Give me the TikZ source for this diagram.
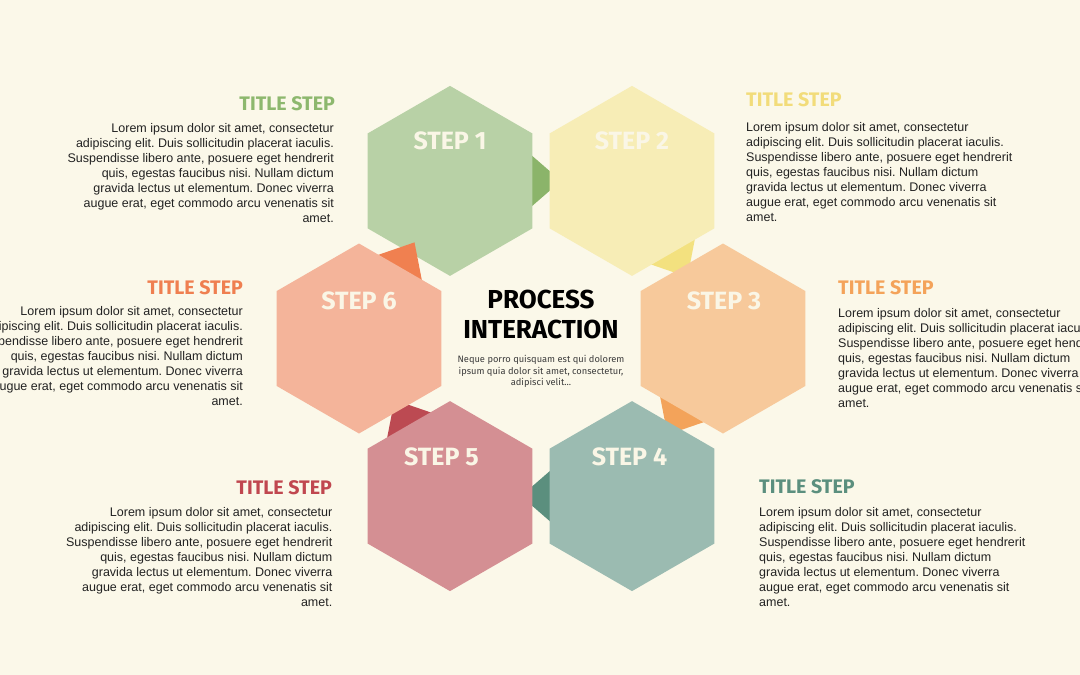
\documentclass[tikz,border=0pt]{standalone}
\usepackage{fontspec}
\setmainfont{Liberation Sans}
\newfontfamily\dinfont{Fira Sans}
\newfontfamily\arialfont{Liberation Sans}
\usetikzlibrary{shapes.geometric,calc}
\frenchspacing
\definecolor{bgc}{HTML}{FBF8E9}
\definecolor{hexA}{HTML}{B8D1A6}
\definecolor{hexB}{HTML}{F7EDB6}
\definecolor{hexC}{HTML}{F7C99B}
\definecolor{hexD}{HTML}{9BBBB1}
\definecolor{hexE}{HTML}{D48F93}
\definecolor{hexF}{HTML}{F4B49A}
\definecolor{triA}{HTML}{8BB46A}
\definecolor{triB}{HTML}{F3E17F}
\definecolor{triC}{HTML}{F3A35A}
\definecolor{triD}{HTML}{5B8F7E}
\definecolor{triE}{HTML}{BC4A52}
\definecolor{triF}{HTML}{F08050}
\definecolor{ttlA}{HTML}{8DB86E}
\definecolor{ttlB}{HTML}{F2DC7A}
\definecolor{ttlC}{HTML}{F4A35A}
\definecolor{ttlD}{HTML}{5B8F7E}
\definecolor{ttlE}{HTML}{C0474F}
\definecolor{ttlF}{HTML}{EF7F50}
\definecolor{stepcol}{HTML}{FAF6E6}
\definecolor{bodycol}{HTML}{222222}
\definecolor{subcol}{HTML}{3C3C3C}
\begin{document}
\frenchspacing
\begin{tikzpicture}[x=1pt,y=-1pt,
  hexa/.style={regular polygon, regular polygon sides=6, minimum size=190pt,
    inner sep=0pt, outer sep=0pt, shape border rotate=30, draw=none},
  steplab/.style={font=\dinfont\bfseries\fontsize{25}{30}\selectfont, text=stepcol, anchor=base, inner sep=0pt},
  ttl/.style={font=\dinfont\bfseries\fontsize{19.6}{22}\selectfont, inner sep=0pt},
  body/.style={font=\arialfont\frenchspacing\fontsize{12.5}{15}\selectfont, text=bodycol, inner sep=0pt},
  bigttl/.style={font=\dinfont\bfseries\fontsize{26}{30}\selectfont, text=black, anchor=base, inner sep=0pt},
  subtxt/.style={font=\dinfont\fontsize{9.3}{11.2}\selectfont, text=subcol, align=center, anchor=north, inner sep=0pt}
]
\fill[bgc] (0,0) rectangle (1080,675);
\useasboundingbox (0,0) rectangle (1080,675);
\clip (0,0) rectangle (1080,675);

\coordinate (c1) at (450,180.9);
\coordinate (c2) at (632,180.9);
\coordinate (c3) at (723,338.5);
\coordinate (c4) at (632,496.1);
\coordinate (c5) at (450,496.1);
\coordinate (c6) at (359,338.5);

% step 1
\fill[triA] ($(c1)!111pt!(c2)$) -- ($(c1)!65pt!(c2)!40pt!90:(c2)$) -- ($(c1)!65pt!(c2)!40pt!-90:(c2)$) -- cycle;
\node[hexa, fill=hexA] (h1) at (c1) {};
% step 2
\fill[triB] ($(c2)!111pt!(c3)$) -- ($(c2)!65pt!(c3)!40pt!90:(c3)$) -- ($(c2)!65pt!(c3)!40pt!-90:(c3)$) -- cycle;
\node[hexa, fill=hexB] (h2) at (c2) {};
% step 3
\fill[triC] ($(c3)!111pt!(c4)$) -- ($(c3)!65pt!(c4)!40pt!90:(c4)$) -- ($(c3)!65pt!(c4)!40pt!-90:(c4)$) -- cycle;
\node[hexa, fill=hexC] (h3) at (c3) {};
% step 4
\fill[triD] ($(c4)!111pt!(c5)$) -- ($(c4)!65pt!(c5)!40pt!90:(c5)$) -- ($(c4)!65pt!(c5)!40pt!-90:(c5)$) -- cycle;
\node[hexa, fill=hexD] (h4) at (c4) {};
% step 5
\fill[triE] ($(c5)!111pt!(c6)$) -- ($(c5)!65pt!(c6)!40pt!90:(c6)$) -- ($(c5)!65pt!(c6)!40pt!-90:(c6)$) -- cycle;
\node[hexa, fill=hexE] (h5) at (c5) {};
% step 6
\fill[triF] ($(c6)!111pt!(c1)$) -- ($(c6)!65pt!(c1)!40pt!90:(c1)$) -- ($(c6)!65pt!(c1)!40pt!-90:(c1)$) -- cycle;
\node[hexa, fill=hexF] (h6) at (c6) {};

% step labels
\node[steplab] (s1) at (450,149) {STEP 1};
\node[steplab] (s2) at (632,149) {STEP 2};
\node[steplab] (s3) at (724,309.5) {STEP 3};
\node[steplab] (s4) at (629.5,465.5) {STEP 4};
\node[steplab] (s5) at (441.5,465.5) {STEP 5};
\node[steplab] (s6) at (359,309.5) {STEP 6};

% centre
\node[bigttl] (p1) at (541,308.3) {PROCESS};
\node[bigttl] (p2) at (541,338.3) {INTERACTION};
\node[subtxt] (p3) at (541,355.5) {Neque porro quisquam est qui dolorem\\ ipsum quia dolor sit amet, consectetur,\\ adipisci velit...};

% titles
\node[ttl, text=ttlA, anchor=base east] (t1) at (335,110) {TITLE STEP};
\node[ttl, text=ttlB, anchor=base west] (t2) at (746,106.5) {TITLE STEP};
\node[ttl, text=ttlC, anchor=base west] (t3) at (838,294.5) {TITLE STEP};
\node[ttl, text=ttlD, anchor=base west] (t4) at (759,493) {TITLE STEP};
\node[ttl, text=ttlE, anchor=base east] (t5) at (332,494) {TITLE STEP};
\node[ttl, text=ttlF, anchor=base east] (t6) at (243,294) {TITLE STEP};

% body texts
\newcommand{\lorembody}{Lorem ipsum dolor sit amet, consectetur\\ adipiscing elit. Duis sollicitudin placerat iaculis.\\ Suspendisse libero ante, posuere eget hendrerit\\ quis, egestas faucibus nisi. Nullam dictum\\ gravida lectus ut elementum. Donec viverra\\ augue erat, eget commodo arcu venenatis sit\\ amet.}
\node[body, align=right, anchor=north east] (b1) at (334,123) {\lorembody};
\node[body, align=left, anchor=north west] (b2) at (746,122.5) {\lorembody};
\node[body, align=left, anchor=north west] (b3) at (838,308) {\lorembody};
\node[body, align=left, anchor=north west] (b4) at (759,507.7) {\lorembody};
\node[body, align=right, anchor=north east] (b5) at (332.5,507.7) {\lorembody};
\node[body, align=right, anchor=north east] (b6) at (243,306) {\lorembody};
\end{tikzpicture}
\end{document}
